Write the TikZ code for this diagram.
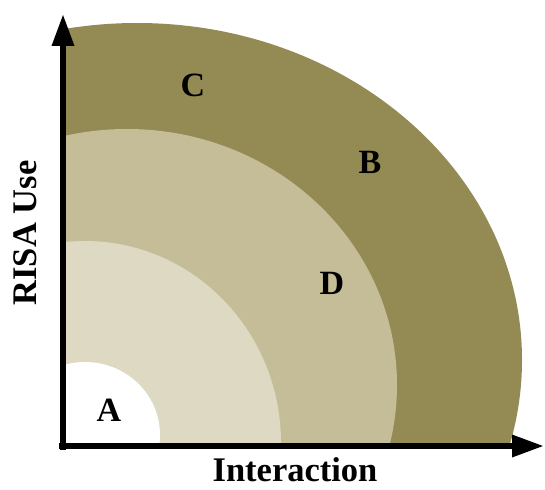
\documentclass[tikz,border=0pt]{standalone}
\usepackage{fontspec}
\setmainfont{Liberation Serif}
\usetikzlibrary{arrows.meta}
\definecolor{zoneouter}{HTML}{948A54}
\definecolor{zonemid}{HTML}{C4BD97}
\definecolor{zoneinner}{HTML}{DDD9C3}
\tikzset{
  zone/outer/.style={fill=zoneouter},
  zone/mid/.style={fill=zonemid},
  zone/inner/.style={fill=zoneinner},
  zone/core/.style={fill=white},
  zone/label/.style={font=\fontsize{34}{34}\selectfont\bfseries, inner sep=0pt},
  axis/line/.style={line width=6.3pt, -{Triangle[length=32pt,width=21pt]}},
  axis/label/.style={font=\fontsize{34.5}{34.5}\selectfont\bfseries, inner sep=0pt, text depth=0pt}
}

\begin{document}
\begin{tikzpicture}[x=1pt, y=-1pt]
  \useasboundingbox (0,0) rectangle (545,489);

  % quarter zones
  \begin{scope}
    \clip (63,0) rectangle (545,446);
    \fill[zone/outer] (137,360) ellipse [x radius=385, y radius=337];
    \fill[zone/mid] (127,385) ellipse [x radius=270, y radius=256];
    \fill[zone/inner] (85,443) ellipse [x radius=196, y radius=202];
    \fill[zone/core] (85,435) ellipse [x radius=75, y radius=73];
  \end{scope}

  \node[zone/label] (a) at (109,410) {A};
  \node[zone/label] (b) at (370,162) {B};
  \node[zone/label] (c) at (193,85) {C};
  \node[zone/label] (d) at (332,283) {D};

  % axes
  \coordinate (origin) at (63,450);
  \coordinate (xstart) at (59,446);
  \coordinate (ytip) at (63,14);
  \coordinate (xtip) at (544,446);
  \draw[axis/line] (origin) -- (ytip);
  \draw[axis/line] (xstart) -- (xtip);

  \node[axis/label, anchor=base] (xlabel) at (295,481) {Interaction};
  \node[axis/label, anchor=base, rotate=90] (ylabel) at (36,233) {RISA Use};
\end{tikzpicture}
\end{document}
